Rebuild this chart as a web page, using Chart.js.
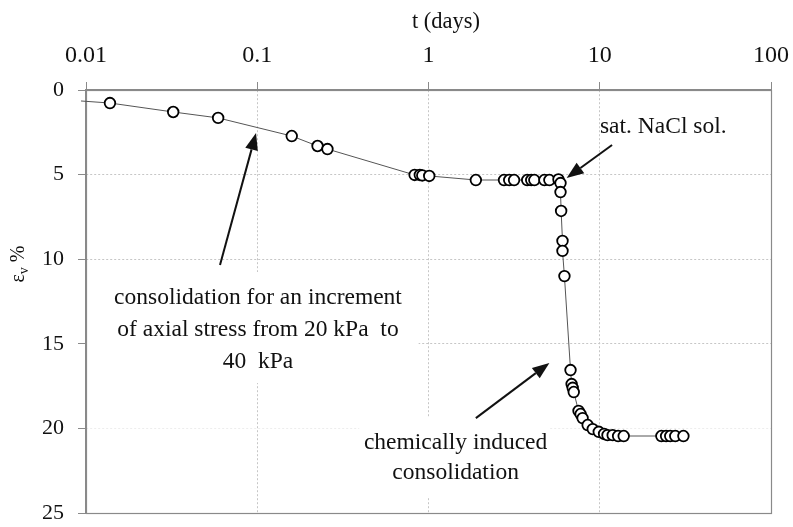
<!DOCTYPE html>
<html>
<head>
<meta charset="utf-8">
<script src="https://cdn.jsdelivr.net/npm/chart.js@4.4.0/dist/chart.umd.min.js"></script>
<style>
  html, body { margin: 0; padding: 0; background: #fff; }
  #wrap { width: 793px; height: 527px; position: relative; }
</style>
</head>
<body>
<div id="wrap"><canvas id="chart"></canvas></div>
<script>
// ===== DATA =====
const tDays = [
  0.00935, 0.0138, 0.0323, 0.0591, 0.159, 0.225, 0.257,
  0.83, 0.89, 0.92, 1.01,
  1.89, 2.76, 2.96, 3.16, 3.77, 3.98, 4.15, 4.75, 5.08,
  5.74, 5.9, 5.9, 5.95, 6.06, 6.06, 6.22,
  6.75, 6.85, 6.95, 7.05, 7.52, 7.73, 7.94, 8.5, 9.1, 9.87,
  10.6, 11.1, 11.9, 12.8, 13.8,
  22.9, 24.4, 25.8, 27.6, 30.8
];
const strainPct = [
  0.65, 0.77, 1.30, 1.65, 2.72, 3.31, 3.49,
  5.02, 5.02, 5.05, 5.08,
  5.32, 5.32, 5.32, 5.32, 5.32, 5.32, 5.32, 5.32, 5.32,
  5.28, 5.5, 6.03, 7.15, 8.92, 9.51, 11.0,
  16.55, 17.38, 17.6, 17.85, 18.97, 19.15, 19.39, 19.8, 20.04, 20.2,
  20.33, 20.4, 20.4, 20.45, 20.45,
  20.45, 20.45, 20.45, 20.45, 20.45
];
const xTicks = [0.01, 0.1, 1, 10, 100];
const xTickLabels = ['0.01', '0.1', '1', '10', '100'];
const yTicks = [0, 5, 10, 15, 20, 25];

// annotation texts, anchored in data units (t, strain)
const notes = [
  { lines: ['consolidation for an increment', 'of axial stress from 20 kPa  to', '40  kPa'], t: 0.101, e: 12.3, lh: 32 },
  { lines: ['chemically induced', 'consolidation'], t: 1.44, e: 20.86, lh: 30 },
  { lines: ['sat. NaCl sol.'], t: 23.5, e: 2.19, lh: 30 }
];
const arrows = [
  { from: [0.0606, 10.34], to: [0.0984, 2.54] },
  { from: [1.89, 19.39], to: [5.08, 16.13] },
  { from: [11.8, 3.25], to: [6.41, 5.2] }
];
// white backing behind the text blocks (hides grid there)
const textBoxes = [
  { t0: 0.01, t1: 0.875, e0: 10.76, e1: 17.32 },
  { t0: 0.394, t1: 5.08, e0: 19.33, e1: 24.05 }
];

const FONT = '"Liberation Serif", "Times New Roman", serif';
const INK = '#111';
const FRAME = '#8a8a8a';
const GRID = '#c6c6c6';

function drawArrow(ctx, x1, y1, x2, y2) {
  const ang = Math.atan2(y2 - y1, x2 - x1);
  const len = 17, half = 6.5;
  const bx = x2 - len * Math.cos(ang), by = y2 - len * Math.sin(ang);
  ctx.beginPath();
  ctx.moveTo(x1, y1);
  ctx.lineTo(bx, by);
  ctx.stroke();
  ctx.beginPath();
  ctx.moveTo(x2, y2);
  ctx.lineTo(bx + half * Math.sin(ang), by - half * Math.cos(ang));
  ctx.lineTo(bx - half * Math.sin(ang), by + half * Math.cos(ang));
  ctx.closePath();
  ctx.fill();
}

const decorations = {
  id: 'decorations',
  beforeDatasetsDraw(chart) {
    const { ctx, chartArea: a, scales: { x, y } } = chart;
    ctx.save();
    ctx.fillStyle = '#fff';
    textBoxes.forEach(b => {
      const x0 = Math.max(x.getPixelForValue(b.t0), a.left + 1);
      const x1 = x.getPixelForValue(b.t1);
      const y0 = y.getPixelForValue(b.e0), y1 = y.getPixelForValue(b.e1);
      ctx.fillRect(x0, y0, x1 - x0, y1 - y0);
    });
    ctx.strokeStyle = FRAME;
    ctx.lineWidth = 1.2;
    ctx.strokeRect(Math.round(a.left) + 0.5, Math.round(a.top) + 0.5,
      Math.round(a.right - a.left), Math.round(a.bottom - a.top));
    ctx.restore();
  },
  afterDraw(chart) {
    const { ctx, scales: { x, y } } = chart;
    ctx.save();
    ctx.fillStyle = INK;
    ctx.strokeStyle = INK;
    ctx.font = '23.5px ' + FONT;
    ctx.textAlign = 'center';
    ctx.textBaseline = 'middle';
    notes.forEach(n => {
      const cx = x.getPixelForValue(n.t), cy = y.getPixelForValue(n.e);
      n.lines.forEach((s, i) => ctx.fillText(s, cx, cy + i * n.lh));
    });
    ctx.lineWidth = 2;
    arrows.forEach(a => {
      drawArrow(ctx, x.getPixelForValue(a.from[0]), y.getPixelForValue(a.from[1]),
        x.getPixelForValue(a.to[0]), y.getPixelForValue(a.to[1]));
    });

    // axis titles
    ctx.font = '22.5px ' + FONT;
    ctx.fillText('t (days)', 446, 22);
    ctx.translate(18, 264);
    ctx.rotate(-Math.PI / 2);
    ctx.textAlign = 'left';
    ctx.textBaseline = 'alphabetic';
    ctx.font = '20px ' + FONT;
    const w1 = ctx.measureText('\u03b5').width;
    ctx.font = '14px ' + FONT;
    const w2 = ctx.measureText('v').width;
    ctx.font = '20px ' + FONT;
    const w3 = ctx.measureText(' %').width;
    let px = -(w1 + w2 + w3) / 2;
    ctx.fillText('\u03b5', px, 6);
    ctx.font = '14px ' + FONT;
    ctx.fillText('v', px + w1, 10);
    ctx.font = '20px ' + FONT;
    ctx.fillText(' %', px + w1 + w2, 6);
    ctx.restore();
  }
};

// ===== CHART =====
const ctx = document.getElementById('chart').getContext('2d');
new Chart(ctx, {
  type: 'scatter',
  data: {
    datasets: [{
      data: tDays.map((t, i) => ({ x: t, y: strainPct[i] })),
      showLine: true,
      clip: false,
      borderColor: '#555',
      borderWidth: 1,
      pointRadius: c => (c.dataIndex === 0 ? 0 : 5.3),
      pointBackgroundColor: '#fff',
      pointBorderColor: '#000',
      pointBorderWidth: 1.8
    }]
  },
  options: {
    responsive: true,
    maintainAspectRatio: false,
    animation: false,
    layout: { padding: { left: 0, top: 0, right: 22, bottom: 14 } },
    plugins: { legend: { display: false }, tooltip: { enabled: false } },
    scales: {
      x: {
        type: 'logarithmic',
        position: 'top',
        min: 0.01,
        max: 100,
        afterBuildTicks: s => { s.ticks = xTicks.map(v => ({ value: v })); },
        afterFit: s => { s.height = 90; s.paddingLeft = 0; s.paddingRight = 0; },
        ticks: {
          autoSkip: false,
          maxRotation: 0,
          padding: 12,
          color: INK,
          font: { family: FONT, size: 24 },
          callback: (v, i) => xTickLabels[i]
        },
        grid: { color: GRID, tickLength: 8, tickColor: FRAME, tickBorderDash: [] },
        border: { color: FRAME, width: 1.2, dash: [2, 2] }
      },
      y: {
        type: 'linear',
        reverse: true,
        min: 0,
        max: 25,
        afterBuildTicks: s => { s.ticks = yTicks.map(v => ({ value: v })); },
        afterFit: s => { s.width = 86; s.paddingTop = 0; s.paddingBottom = 0; },
        ticks: {
          padding: 14,
          color: INK,
          font: { family: FONT, size: 22 }
        },
        grid: {
          color: c => (c.tick && c.tick.value === 20 ? '#ededed' : GRID),
          tickLength: 8, tickColor: FRAME, tickBorderDash: []
        },
        border: { color: FRAME, width: 1.2, dash: [2, 2] }
      }
    }
  },
  plugins: [decorations]
});
</script>
</body>
</html>
